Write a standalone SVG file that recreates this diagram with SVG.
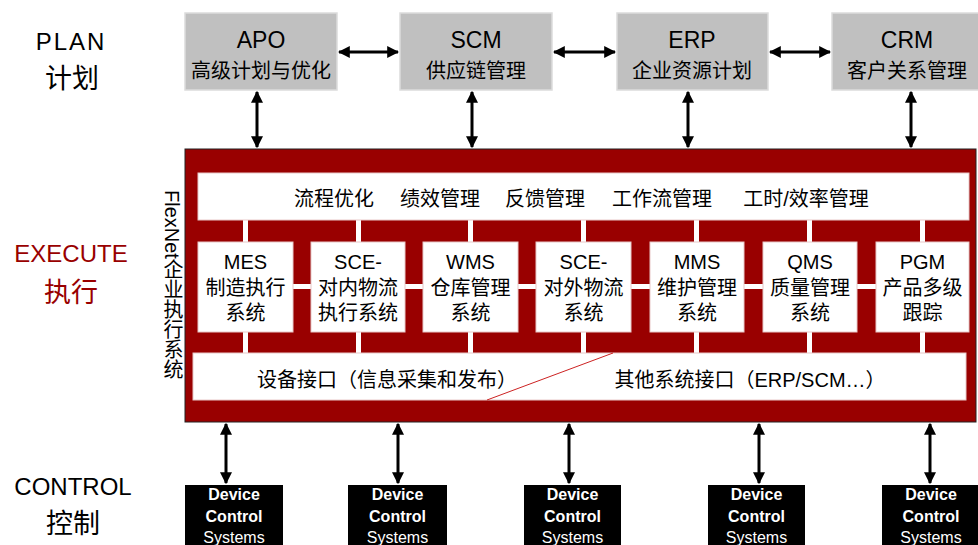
<svg xmlns="http://www.w3.org/2000/svg" width="978" height="545" viewBox="0 0 978 545">
<defs>
<marker id="ah" viewBox="0 0 10 10" refX="9" refY="5" markerWidth="4" markerHeight="4" orient="auto-start-reverse" markerUnits="strokeWidth">
<path d="M0,0 L10,5 L0,10 z" fill="#000"/>
</marker>
<style>
.lbl{font-family:"Liberation Sans","Noto Sans CJK SC",sans-serif;fill:#000;text-anchor:middle}
.plan{fill:#c0c0c0;stroke:#dcdcdc;stroke-width:1.5}
.wb{fill:#fff;stroke:#e8c8c8;stroke-width:1}
.dev{fill:#000}
.dt{font-family:"Liberation Sans",sans-serif;fill:#fff;text-anchor:middle;font-size:16px}
.conn{stroke:#000;stroke-width:3;fill:none;marker-start:url(#ah);marker-end:url(#ah)}
.m{font-size:20px}
.s{fill:#fff}
</style>
</defs>
<rect width="978" height="545" fill="#fff"/>

<g id="layer-labels">
<text class="lbl" x="71" y="50" font-size="24" letter-spacing="2">PLAN</text>
<text class="lbl" x="72" y="88" font-size="27">计划</text>
<text class="lbl" x="71" y="262" font-size="24" style="fill:#990000">EXECUTE</text>
<text class="lbl" x="71" y="302" font-size="27" style="fill:#990000">执行</text>
<text class="lbl" x="73" y="495" font-size="24">CONTROL</text>
<text class="lbl" x="73" y="533" font-size="27">控制</text>
</g>

<g id="apo"><rect class="plan" x="185" y="13" width="152" height="77"/><text class="lbl" x="261" y="48" font-size="23">APO</text><text class="lbl" x="261" y="78" font-size="20">高级计划与优化</text></g>
<g id="scm"><rect class="plan" x="400" y="13" width="152" height="77"/><text class="lbl" x="476" y="48" font-size="23">SCM</text><text class="lbl" x="476" y="78" font-size="20">供应链管理</text></g>
<g id="erp"><rect class="plan" x="617" y="13" width="151" height="77"/><text class="lbl" x="692" y="48" font-size="23">ERP</text><text class="lbl" x="692" y="78" font-size="20">企业资源计划</text></g>
<g id="crm"><rect class="plan" x="832" y="13" width="150" height="77"/><text class="lbl" x="907" y="48" font-size="23">CRM</text><text class="lbl" x="907" y="78" font-size="20">客户关系管理</text></g>

<g id="flexnet">
<rect x="185" y="149" width="791" height="273" fill="#990000" stroke="#222" stroke-width="1"/>
<text class="lbl" x="172" y="190" font-size="20" style="writing-mode:vertical-rl;text-orientation:mixed;text-anchor:start">FlexNet企业执行系统</text>
<g id="inner-links" class="s">
<rect x="243" y="218" width="5" height="137"/>
<rect x="356" y="218" width="5" height="137"/>
<rect x="468" y="218" width="5" height="137"/>
<rect x="581" y="218" width="5" height="137"/>
<rect x="694" y="218" width="5" height="137"/>
<rect x="807" y="218" width="5" height="137"/>
<rect x="920" y="218" width="5" height="137"/>
<rect x="290" y="284" width="24" height="5"/>
<rect x="402" y="284" width="24" height="5"/>
<rect x="515" y="284" width="24" height="5"/>
<rect x="628" y="284" width="24" height="5"/>
<rect x="741" y="284" width="24" height="5"/>
<rect x="854" y="284" width="24" height="5"/>
</g>
<g id="top-bar"><rect class="wb" x="198" y="173" width="771" height="47"/>
<text class="lbl m" x="334" y="206">流程优化</text>
<text class="lbl m" x="440" y="206">绩效管理</text>
<text class="lbl m" x="545" y="206">反馈管理</text>
<text class="lbl m" x="662" y="206">工作流管理</text>
<text class="lbl m" x="806" y="206">工时/效率管理</text>
</g>
<g id="mes"><rect class="wb" x="198" y="242" width="95" height="90"/><text class="lbl m" x="245.5" y="269">MES</text><text class="lbl m" x="245.5" y="295">制造执行</text><text class="lbl m" x="245.5" y="320">系统</text></g>
<g id="sce-in"><rect class="wb" x="311" y="242" width="94" height="90"/><text class="lbl m" x="358" y="269">SCE-</text><text class="lbl m" x="358" y="295">对内物流</text><text class="lbl m" x="358" y="320">执行系统</text></g>
<g id="wms"><rect class="wb" x="423" y="242" width="95" height="90"/><text class="lbl m" x="470.5" y="269">WMS</text><text class="lbl m" x="470.5" y="295">仓库管理</text><text class="lbl m" x="470.5" y="320">系统</text></g>
<g id="sce-out"><rect class="wb" x="536" y="242" width="95" height="90"/><text class="lbl m" x="583.5" y="269">SCE-</text><text class="lbl m" x="583.5" y="295">对外物流</text><text class="lbl m" x="583.5" y="320">系统</text></g>
<g id="mms"><rect class="wb" x="650" y="242" width="94" height="90"/><text class="lbl m" x="697" y="269">MMS</text><text class="lbl m" x="697" y="295">维护管理</text><text class="lbl m" x="697" y="320">系统</text></g>
<g id="qms"><rect class="wb" x="763" y="242" width="94" height="90"/><text class="lbl m" x="810" y="269">QMS</text><text class="lbl m" x="810" y="295">质量管理</text><text class="lbl m" x="810" y="320">系统</text></g>
<g id="pgm"><rect class="wb" x="876" y="242" width="93" height="90"/><text class="lbl m" x="922.5" y="269">PGM</text><text class="lbl m" x="922.5" y="295">产品多级</text><text class="lbl m" x="922.5" y="320">跟踪</text></g>
<g id="bottom-bar"><rect class="wb" x="193" y="353" width="773" height="47"/>
<line x1="487" y1="400" x2="613" y2="353" stroke="#cc2222" stroke-width="1"/>
<text class="lbl m" x="387" y="387">设备接口（信息采集和发布）</text>
<text class="lbl m" x="750" y="387">其他系统接口（ERP/SCM…）</text>
</g>
</g>

<g id="dcs1"><rect class="dev" x="185" y="485" width="98" height="70"/><text class="dt" x="234" y="500" font-weight="bold">Device</text><text class="dt" x="234" y="522" font-weight="bold">Control</text><text class="dt" x="234" y="543">Systems</text></g>
<g id="dcs2"><rect class="dev" x="348" y="485" width="99" height="70"/><text class="dt" x="397.5" y="500" font-weight="bold">Device</text><text class="dt" x="397.5" y="522" font-weight="bold">Control</text><text class="dt" x="397.5" y="543">Systems</text></g>
<g id="dcs3"><rect class="dev" x="524" y="485" width="97" height="70"/><text class="dt" x="572.5" y="500" font-weight="bold">Device</text><text class="dt" x="572.5" y="522" font-weight="bold">Control</text><text class="dt" x="572.5" y="543">Systems</text></g>
<g id="dcs4"><rect class="dev" x="708" y="485" width="97" height="70"/><text class="dt" x="756.5" y="500" font-weight="bold">Device</text><text class="dt" x="756.5" y="522" font-weight="bold">Control</text><text class="dt" x="756.5" y="543">Systems</text></g>
<g id="dcs5"><rect class="dev" x="882" y="485" width="100" height="70"/><text class="dt" x="931" y="500" font-weight="bold">Device</text><text class="dt" x="931" y="522" font-weight="bold">Control</text><text class="dt" x="931" y="543">Systems</text></g>

<g id="connectors">
<line class="conn" x1="339" y1="52" x2="398" y2="52"/>
<line class="conn" x1="554" y1="52" x2="615" y2="52"/>
<line class="conn" x1="770" y1="52" x2="830" y2="52"/>
<line class="conn" x1="257" y1="92" x2="257" y2="147"/>
<line class="conn" x1="472" y1="92" x2="472" y2="147"/>
<line class="conn" x1="688" y1="92" x2="688" y2="147"/>
<line class="conn" x1="911" y1="92" x2="911" y2="147"/>
<line class="conn" x1="226" y1="424" x2="226" y2="483"/>
<line class="conn" x1="398" y1="424" x2="398" y2="483"/>
<line class="conn" x1="569" y1="424" x2="569" y2="483"/>
<line class="conn" x1="759" y1="424" x2="759" y2="483"/>
<line class="conn" x1="930" y1="424" x2="930" y2="483"/>
</g>
</svg>
